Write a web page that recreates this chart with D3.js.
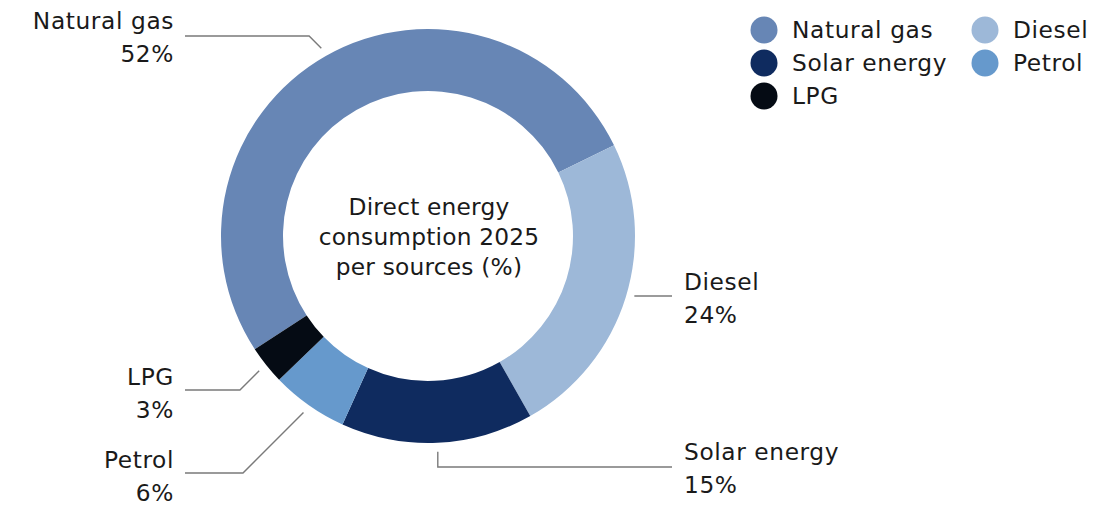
<!DOCTYPE html>
<html>
<head>
<meta charset="utf-8">
<script src="https://cdn.jsdelivr.net/npm/d3@7"></script>
<style>
  html, body { margin: 0; padding: 0; background: #fff; }
  svg text { font-family: "DejaVu Sans", sans-serif; fill: #1a1a1a; letter-spacing: 0.6px; }
</style>
</head>
<body>
<svg id="chart" width="1116" height="507"></svg>
<script>
// Energy sources, clockwise from the start of the natural gas slice
const sources = ["Natural gas", "Diesel", "Solar energy", "Petrol", "LPG"];
const shares = [52, 24, 15, 6, 3];
const colors = ["#6786b5", "#9db8d8", "#0f2b5f", "#6699cc", "#050b14"];
const centerTitle = ["Direct energy", "consumption 2025", "per sources (%)"];

const svg = d3.select("#chart");
const cx = 428, cy = 236, rOuter = 207, rInner = 145;
const deg = Math.PI / 180;
const start = -123.2 * deg;
const fontSize = "23.3px";

const pie = d3.pie().sort(null).value(d => d.v)
  .startAngle(start).endAngle(start + 2 * Math.PI);
const arcs = pie(sources.map((s, i) => ({ name: s, v: shares[i], c: colors[i] })));
const arc = d3.arc().innerRadius(rInner).outerRadius(rOuter);

const g = svg.append("g").attr("transform", `translate(${cx},${cy})`);
g.selectAll("path.slice").data(arcs).enter().append("path")
  .attr("class", "slice")
  .attr("d", arc)
  .attr("fill", d => d.data.c);

// centre caption
g.selectAll("text.title").data(centerTitle).enter().append("text")
  .attr("class", "title")
  .attr("text-anchor", "middle")
  .attr("x", 1)
  .attr("y", (d, i) => -29 + i * 30)
  .attr("dy", "0.35em")
  .style("font-size", fontSize)
  .style("letter-spacing", "0.2px")
  .text(d => d);

// leader line layout: where the horizontal run sits, where it ends, and how it bends
const leaderLayout = {
  "Natural gas":  { y: 36,  endX: 185, bend: "diag", side: "left" },
  "Diesel":       { y: 296, endX: 672, bend: "none", side: "right" },
  "Solar energy": { y: 467, endX: 672, bend: "vert", side: "right" },
  "Petrol":       { y: 473, endX: 185, bend: "diag", side: "left" },
  "LPG":          { y: 390, endX: 185, bend: "diag", side: "left" }
};
const labelLayout = {
  "Natural gas":  { x: 174, y: 21 },
  "Diesel":       { x: 684, y: 282 },
  "Solar energy": { x: 684, y: 452 },
  "Petrol":       { x: 174, y: 460 },
  "LPG":          { x: 174, y: 377 }
};

const rLead = rOuter + 9;
arcs.forEach(d => {
  const name = d.data.name;
  const L = leaderLayout[name];
  const mid = (d.startAngle + d.endAngle) / 2;
  const sx = cx + rLead * Math.sin(mid);
  const sy = cy - rLead * Math.cos(mid);
  let pts;
  if (L.bend === "diag") {
    const dy = Math.abs(L.y - sy);
    const ex = L.side === "left" ? sx - dy : sx + dy;
    pts = [[sx, sy], [ex, L.y], [L.endX, L.y]];
  } else if (L.bend === "vert") {
    pts = [[sx, sy], [sx, L.y], [L.endX, L.y]];
  } else {
    pts = [[sx, L.y], [L.endX, L.y]];
  }
  svg.append("path")
    .attr("d", d3.line()(pts))
    .attr("fill", "none")
    .attr("stroke", "#7a7a7a")
    .attr("stroke-width", 1.4);

  const T = labelLayout[name];
  const anchor = L.side === "left" ? "end" : "start";
  const t = svg.append("text")
    .attr("text-anchor", anchor)
    .style("font-size", fontSize);
  t.append("tspan").attr("x", T.x).attr("y", T.y).attr("dy", "0.35em").text(name);
  t.append("tspan").attr("x", T.x).attr("y", T.y + 33).attr("dy", "0.35em").text(d.data.v + "%");
});

// legend, filled row by row in two columns
const legendCols = [764, 985];
const legendRows = [30, 63, 96];
const lg = svg.append("g");
arcs.forEach((d, i) => {
  const col = i % 2, row = Math.floor(i / 2);
  const x = legendCols[col], y = legendRows[row];
  lg.append("circle").attr("cx", x).attr("cy", y).attr("r", 13.5).attr("fill", d.data.c);
  lg.append("text").attr("x", x + 28).attr("y", y).attr("dy", "0.33em")
    .style("font-size", fontSize).text(d.data.name);
});
</script>
</body>
</html>
